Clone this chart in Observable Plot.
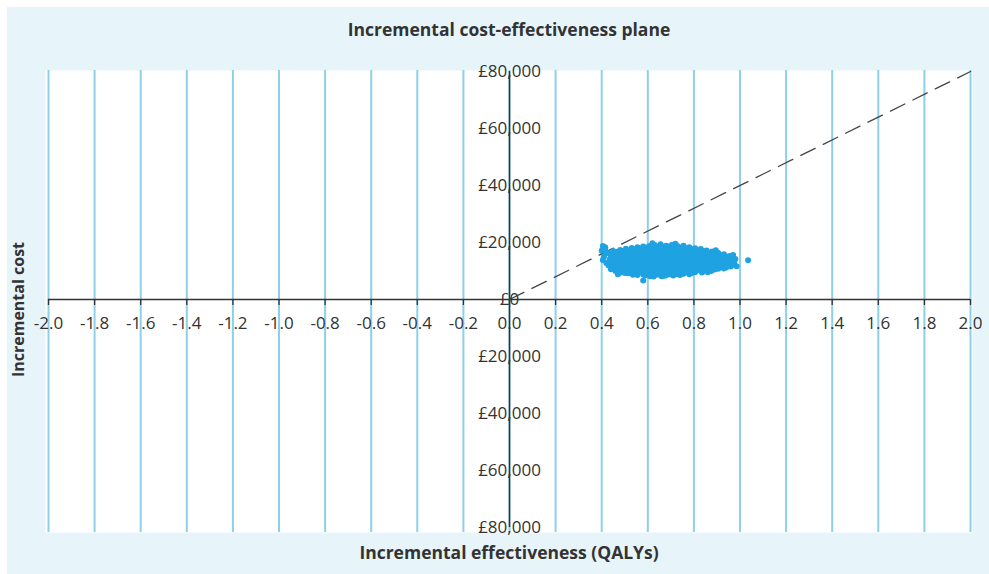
<!DOCTYPE html>
<html>
<head>
<meta charset="utf-8">
<script src="https://cdn.jsdelivr.net/npm/d3@7"></script>
<script src="https://cdn.jsdelivr.net/npm/@observablehq/plot@0.6"></script>
<style>
  html, body { margin: 0; padding: 0; background: #ffffff; }
  #wrap { position: relative; width: 989px; height: 574px; overflow: hidden; }
  #panel { position: absolute; left: 7px; top: 7px; right: 0; bottom: 0; background: #e7f5fb; }
  #chart { position: absolute; left: 0; top: 0; }
</style>
</head>
<body>
<div id="wrap">
  <div id="panel"></div>
  <div id="chart"></div>
</div>
<script>
// Axis ticks
const qalyTicks = [-2.0, -1.8, -1.6, -1.4, -1.2, -1.0, -0.8, -0.6, -0.4, -0.2, 0.0,
                   0.2, 0.4, 0.6, 0.8, 1.0, 1.2, 1.4, 1.6, 1.8, 2.0];
const costTicks = [80000, 60000, 40000, 20000, 0, -20000, -40000, -60000, -80000];
const costTickLabels = ["£80,000", "£60,000", "£40,000", "£20,000", "£0",
                        "£20,000", "£40,000", "£60,000", "£80,000"];

// Willingness-to-pay threshold (£ per QALY) drawn as the dashed line
const thresholdPerQaly = 40000;
const thresholdLine = [[0, 0], [2.0, 2.0 * thresholdPerQaly]];

// Simulated incremental (QALY, cost) pairs
const simulatedPairs = [
  [0.405,18800],[0.415,18300],[0.41,15000],[0.42,12800],
  [0.40,17100],[0.415,17700],[0.42,16300],[0.405,13900],
  [0.43,16200],[0.435,14100],[0.43,11900],[0.44,10600],
  [0.44,15400],[0.44,13500],[0.44,12000],
  [0.45,17000],[0.455,15600],[0.45,14200],[0.46,12700],[0.455,11300],[0.46,10000],
  [0.465,16700],[0.465,15300],[0.465,13900],[0.465,12400],[0.465,11000],[0.47,8900],
  [0.48,17400],[0.475,16000],[0.485,14600],[0.48,13100],[0.475,11700],[0.485,10300],[0.48,9400],
  [0.49,17000],[0.49,15700],[0.49,14300],[0.49,12900],[0.49,11500],[0.49,10100],
  [0.505,17800],[0.50,16400],[0.51,15000],[0.50,13600],[0.505,12200],[0.51,10800],[0.50,9300],
  [0.515,17300],[0.515,16000],[0.515,14600],[0.515,13200],[0.515,11800],[0.515,10400],[0.515,9200],
  [0.53,18100],[0.525,16700],[0.535,15300],[0.53,13900],[0.525,12500],[0.535,11000],[0.53,9600],[0.535,8700],
  [0.54,17600],[0.54,16200],[0.54,14800],[0.54,13400],[0.54,12000],[0.54,10600],[0.54,9200],
  [0.555,18300],[0.56,16900],[0.55,15500],[0.56,14100],[0.555,12700],[0.55,11300],[0.56,9900],[0.555,8600],
  [0.565,17900],[0.565,16500],[0.565,15100],[0.565,13700],[0.565,12300],[0.565,10900],[0.565,9500],
  [0.58,18600],[0.585,17200],[0.575,15800],[0.585,14400],[0.58,13000],[0.575,11600],[0.585,10200],[0.58,8800],[0.58,6700],
  [0.59,18100],[0.59,16700],[0.59,15300],[0.59,13900],[0.59,12500],[0.59,11100],[0.59,9700],[0.59,8500],
  [0.605,18700],[0.60,17300],[0.61,15900],[0.605,14500],[0.60,13100],[0.61,11700],[0.605,10300],[0.60,8900],[0.61,8200],
  [0.615,18300],[0.615,16900],[0.615,15500],[0.615,14100],[0.615,12700],[0.615,11300],[0.615,9900],[0.615,8600],
  [0.62,19700],
  [0.63,19100],[0.635,17600],[0.625,16200],[0.635,14800],[0.63,13300],[0.625,11900],[0.635,10500],[0.63,9100],[0.625,8100],
  [0.64,18500],[0.64,17100],[0.64,15700],[0.64,14300],[0.64,12900],[0.64,11500],[0.64,10100],[0.64,8700],
  [0.655,19400],[0.66,17800],[0.65,16400],[0.66,15000],[0.655,13500],[0.65,12100],[0.66,10700],[0.655,9300],[0.66,8200],
  [0.665,18600],[0.665,17200],[0.665,15800],[0.665,14400],[0.665,13000],[0.665,11600],[0.665,10200],[0.665,8800],
  [0.68,18900],[0.685,17500],[0.675,16100],[0.685,14700],[0.68,13300],[0.675,11900],[0.685,10500],[0.68,9100],[0.675,8300],
  [0.69,18500],[0.69,17100],[0.69,15700],[0.69,14300],[0.69,12900],[0.69,11500],[0.69,10100],[0.69,8800],
  [0.705,19200],[0.70,17700],[0.71,16300],[0.705,14900],[0.70,13500],[0.71,12100],[0.705,10700],[0.70,9300],[0.71,8400],
  [0.715,18400],[0.715,17000],[0.715,15600],[0.715,14200],[0.715,12800],[0.715,11400],[0.715,10000],[0.715,8700],
  [0.72,19600],
  [0.73,18700],[0.735,17300],[0.725,15900],[0.735,14500],[0.73,13100],[0.725,11700],[0.735,10300],[0.73,8900],
  [0.74,18200],[0.74,16800],[0.74,15400],[0.74,14000],[0.74,12600],[0.74,11200],[0.74,9800],[0.74,8600],
  [0.755,18900],[0.76,17400],[0.75,16000],[0.76,14600],[0.755,13200],[0.75,11800],[0.76,10400],[0.755,9000],
  [0.765,18000],[0.765,16600],[0.765,15200],[0.765,13800],[0.765,12400],[0.765,11000],[0.765,9600],
  [0.78,18300],[0.785,16900],[0.775,15500],[0.785,14100],[0.78,12700],[0.775,11300],[0.785,9900],[0.78,8900],
  [0.79,17600],[0.79,16200],[0.79,14800],[0.79,13400],[0.79,12000],[0.79,10600],[0.79,9300],
  [0.805,18000],[0.80,16600],[0.81,15200],[0.805,13800],[0.80,12400],[0.81,11000],[0.805,9600],
  [0.815,17300],[0.815,15900],[0.815,14500],[0.815,13100],[0.815,11700],[0.815,10300],
  [0.83,17700],[0.835,16300],[0.825,14900],[0.835,13500],[0.83,12100],[0.825,10700],[0.835,9500],
  [0.84,17000],[0.84,15600],[0.84,14200],[0.84,12800],[0.84,11400],[0.84,10000],
  [0.855,17200],[0.86,15900],[0.85,14500],[0.86,13100],[0.855,11700],[0.85,10300],[0.86,9600],
  [0.865,16500],[0.865,15100],[0.865,13700],[0.865,12300],[0.865,10900],
  [0.88,16800],[0.885,15400],[0.875,14000],[0.885,12600],[0.88,11200],[0.875,10000],
  [0.89,16100],[0.89,14700],[0.89,13300],[0.89,11900],[0.89,10500],[0.895,17300],
  [0.905,16400],[0.91,15000],[0.90,13600],[0.91,12200],[0.905,10800],
  [0.915,15600],[0.915,14200],[0.915,12800],[0.915,11400],
  [0.93,15900],[0.935,14500],[0.925,13100],[0.935,11700],[0.93,10900],
  [0.94,15100],[0.94,13700],[0.94,12300],[0.94,11200],
  [0.955,15300],[0.96,14000],[0.95,12700],[0.96,11600],
  [0.965,14600],[0.965,13300],[0.965,12100],[0.97,15600],
  [0.98,14200],[0.975,12900],[0.985,11700],
  [1.035,13800]
];

const font = "'Open Sans', 'DejaVu Sans', sans-serif";
const ink = "#333333";

const chart = Plot.plot({
  width: 989,
  height: 574,
  marginTop: 70,
  marginBottom: 42,
  marginLeft: 45,
  marginRight: 17,
  insetLeft: 3,
  insetRight: 2,
  insetTop: 1,
  insetBottom: 5,
  style: { background: "transparent", fontFamily: font, overflow: "visible" },
  x: { domain: [-2, 2], axis: null },
  y: { domain: [-80000, 80000], axis: null },
  marks: [
    Plot.frame({ fill: "#ffffff", stroke: null }),
    // vertical gridlines
    Plot.ruleX(qalyTicks, { stroke: "#8dd0e8", strokeWidth: 2 }),
    // horizontal axis through zero cost
    Plot.ruleY([0], { x1: -2, x2: 2, stroke: ink, strokeWidth: 1.3 }),
    // small tick marks below the horizontal axis
    Plot.ruleX(qalyTicks, { y1: 0, y2: 0, insetBottom: -6, stroke: ink, strokeWidth: 1.3 }),
    // vertical axis through zero effect
    Plot.ruleX([0], { y1: -80000, y2: 80000, stroke: ink, strokeWidth: 1.5 }),
    // threshold line
    Plot.line(thresholdLine, { x: d => d[0], y: d => d[1], stroke: "#444444", strokeWidth: 1.3, strokeDasharray: "16,9" }),
    // simulated pairs
    Plot.dot(simulatedPairs, { x: d => d[0], y: d => d[1], r: 3, fill: "#1fa2e1", stroke: null }),
    // x tick labels
    Plot.text(qalyTicks, { x: d => d, y: 0, dy: 24, text: d => d.toFixed(1), fontSize: 17, fill: ink }),
    // y tick labels
    Plot.text(costTicks, { x: 0, y: d => d, text: (d, i) => costTickLabels[i], fontSize: 17, fill: ink }),
    // title
    Plot.text(["Incremental cost-effectiveness plane"], { frameAnchor: "top", dy: -40, lineAnchor: "middle", fontSize: 17.5, fontWeight: 700, fill: ink }),
    // x axis label
    Plot.text(["Incremental effectiveness (QALYs)"], { frameAnchor: "bottom", dy: 21, lineAnchor: "middle", fontSize: 17.5, fontWeight: 700, fill: ink }),
    // y axis label
    Plot.text(["Incremental cost"], { frameAnchor: "left", textAnchor: "middle", dx: -27, dy: 8, rotate: -90, fontSize: 16, fontWeight: 700, fill: ink })
  ]
});

document.getElementById("chart").appendChild(chart);
</script>
</body>
</html>
